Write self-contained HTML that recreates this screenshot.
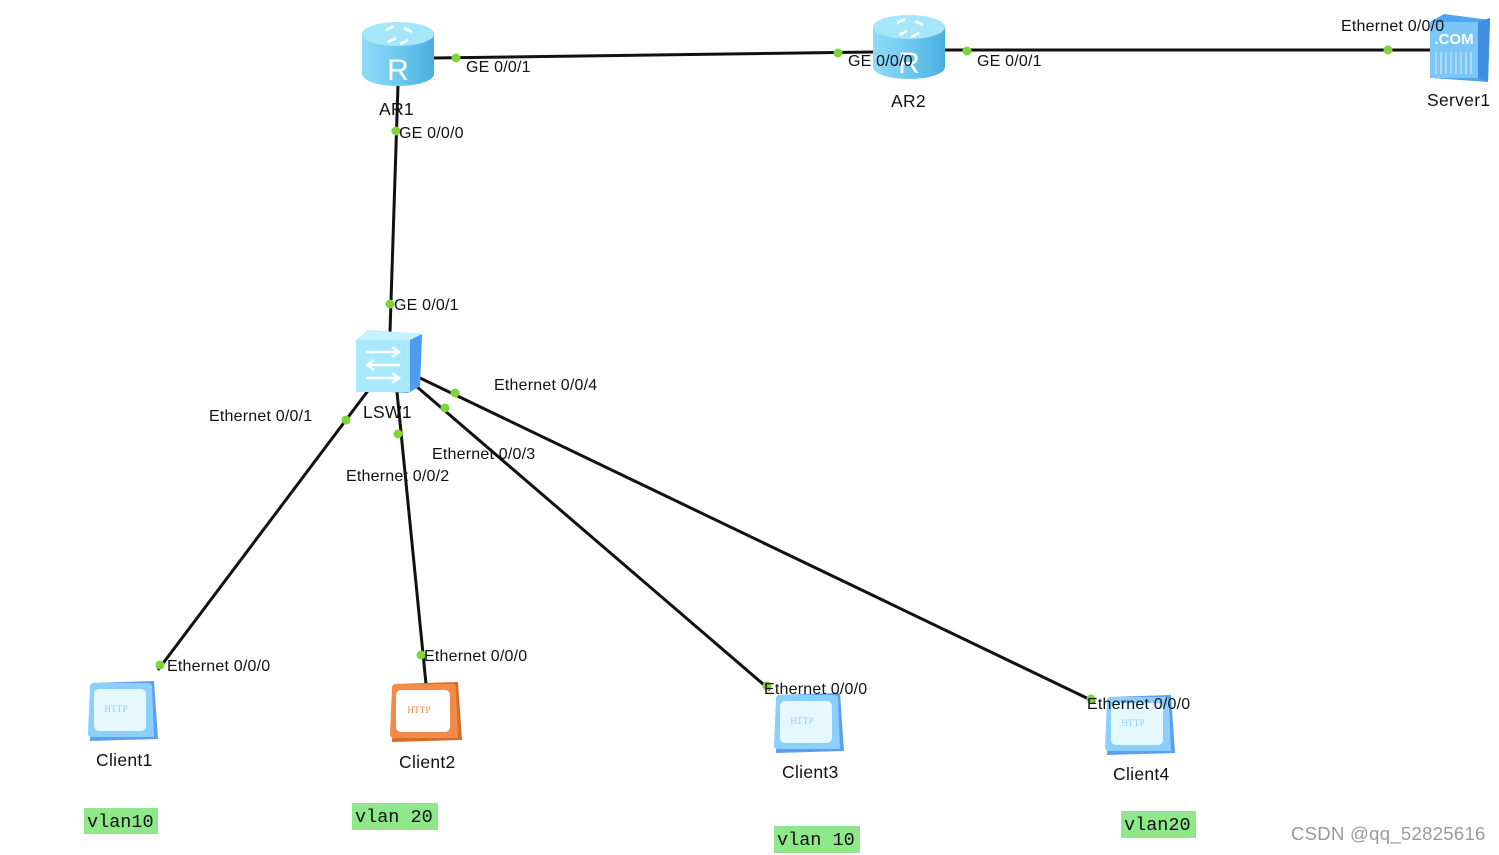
<!DOCTYPE html>
<html><head><meta charset="utf-8"><style>
html,body{margin:0;padding:0;background:#fff;}
svg{display:block;}
text{font-family:"Liberation Sans",sans-serif;font-size:16px;letter-spacing:0.2px;fill:#111;}
.n{font-size:17.5px;letter-spacing:0.3px;}
.m{font-family:"Liberation Mono",monospace;font-size:18.5px;letter-spacing:0;}
</style></head><body>
<svg width="1499" height="855" viewBox="0 0 1499 855" xmlns="http://www.w3.org/2000/svg">
<defs>
<linearGradient id="rg" x1="0" x2="1"><stop offset="0" stop-color="#8fdcf8"/><stop offset="0.5" stop-color="#6ec9f0"/><stop offset="1" stop-color="#4aaee0"/></linearGradient>
<g id="router">
<path d="M-36,-22 L-36,18 A36,12 0 0 0 36,18 L36,-22 Z" fill="url(#rg)"/>
<ellipse cx="0" cy="-22" rx="36" ry="12" fill="#a6e6fb"/>
<path d="M-12,-26 l8,-4 M-2,-18 l-8,4 M6,-28 l8,4 M10,-16 l-8,4" stroke="#fff" stroke-width="2.5"/>
<text x="0" y="24" text-anchor="middle" style="font-size:30px;fill:#fff;letter-spacing:0">R</text>
</g>
<g id="client">
<path d="M4,2 L66,0 L70,58 L2,60 Z" fill="#5b9ff0"/>
<path d="M2,6 Q2,2 6,2 L60,2 Q64,2 64,6 L66,56 L4,56 Q0,56 0,52 Z" fill="#8ccffc"/>
<rect x="6" y="8" width="52" height="42" rx="5" fill="#e6f8ff"/>
<text x="28" y="31" text-anchor="middle" style="font-size:9px;fill:#8ccffc;font-family:'Liberation Serif',serif">HTTP</text>
</g>
</defs>

<g stroke="#111" stroke-width="3" fill="none">
<line x1="434" y1="58" x2="873" y2="52"/>
<line x1="945" y1="50" x2="1430" y2="50"/>
<line x1="398" y1="85" x2="390" y2="332"/>
<line x1="370" y1="388" x2="158" y2="670"/>
<line x1="397" y1="392" x2="426" y2="684"/>
<line x1="416" y1="386" x2="770" y2="690"/>
<line x1="420" y1="378" x2="1095" y2="702"/>
</g>

<use href="#router" x="398" y="56"/>
<use href="#router" x="909" y="49"/>

<g>
<path d="M1430,22 L1444,14 L1490,20 L1488,82 L1432,78 Z" fill="#4ea6ee"/>
<rect x="1430" y="22" width="48" height="56" fill="#7cc6f7"/>
<path d="M1478,22 L1490,18 L1488,82 L1478,78 Z" fill="#3f8fe0"/>
<text x="1454" y="44" text-anchor="middle" style="font-size:15px;fill:#fff;font-weight:bold;letter-spacing:0">.COM</text>
<g stroke="#d8f0ff" stroke-width="1"><line x1="1436" y1="52" x2="1436" y2="74"/><line x1="1441" y1="52" x2="1441" y2="74"/><line x1="1446" y1="52" x2="1446" y2="74"/><line x1="1451" y1="52" x2="1451" y2="74"/><line x1="1456" y1="52" x2="1456" y2="74"/><line x1="1461" y1="52" x2="1461" y2="74"/><line x1="1466" y1="52" x2="1466" y2="74"/><line x1="1471" y1="52" x2="1471" y2="74"/></g>
</g>

<g>
<path d="M356,340 L368,330 L422,334 L420,386 L408,393 L356,390 Z" fill="#5aa8f0"/>
<rect x="356" y="340" width="54" height="52" fill="#a8e8fc"/>
<path d="M410,340 L422,334 L420,386 L410,392 Z" fill="#4d9cf0"/>
<path d="M356,340 L368,330 L422,334 L410,340 Z" fill="#c4f2ff"/>
<g stroke="#fff" stroke-width="2.5" fill="none">
<path d="M366,352 L398,352 M392,347 L399,352 L392,357"/>
<path d="M400,365 L368,365 M374,360 L367,365 L374,370"/>
<path d="M366,378 L398,378 M392,373 L399,378 L392,383"/>
</g>
</g>

<use href="#client" x="88" y="681"/>
<g transform="translate(390,682)">
<path d="M4,2 L68,0 L72,58 L2,60 Z" fill="#d66a2a"/>
<path d="M2,6 Q2,2 6,2 L62,2 Q66,2 66,6 L68,56 L4,56 Q0,56 0,52 Z" fill="#f28b46"/>
<rect x="6" y="8" width="54" height="42" rx="5" fill="#fff"/>
<text x="29" y="31" text-anchor="middle" style="font-size:9px;fill:#f28b46;font-family:'Liberation Serif',serif">HTTP</text>
</g>
<use href="#client" x="774" y="693"/>
<use href="#client" x="1105" y="695"/>

<g fill="#7fd43a">
<circle cx="456" cy="58" r="4.5"/><circle cx="838" cy="53" r="4.5"/><circle cx="967" cy="51" r="4.5"/><circle cx="1388" cy="50" r="4.5"/>
<circle cx="396" cy="131" r="4.5"/><circle cx="390" cy="304" r="4.5"/><circle cx="346" cy="420" r="4.5"/><circle cx="398" cy="434" r="4.5"/>
<circle cx="445" cy="408" r="4.5"/><circle cx="455" cy="393" r="4.5"/><circle cx="160" cy="665" r="4.5"/><circle cx="421" cy="655" r="4.5"/>
<circle cx="767" cy="686" r="4.5"/><circle cx="1091" cy="699" r="4.5"/>
</g>

<text x="466" y="72">GE 0/0/1</text>
<text class="n" x="379" y="115">AR1</text>
<text x="399" y="138">GE 0/0/0</text>
<text x="848" y="66">GE 0/0/0</text>
<text x="977" y="66">GE 0/0/1</text>
<text class="n" x="891" y="107">AR2</text>
<text x="1341" y="31">Ethernet 0/0/0</text>
<text class="n" x="1427" y="106">Server1</text>
<text x="394" y="310">GE 0/0/1</text>
<text class="n" x="363" y="418">LSW1</text>
<text x="494" y="390">Ethernet 0/0/4</text>
<text x="209" y="421">Ethernet 0/0/1</text>
<text x="432" y="459">Ethernet 0/0/3</text>
<text x="346" y="481">Ethernet 0/0/2</text>
<text x="167" y="671">Ethernet 0/0/0</text>
<text x="424" y="661">Ethernet 0/0/0</text>
<text x="764" y="694">Ethernet 0/0/0</text>
<text x="1087" y="709">Ethernet 0/0/0</text>
<text class="n" x="96" y="766">Client1</text>
<text class="n" x="399" y="768">Client2</text>
<text class="n" x="782" y="778">Client3</text>
<text class="n" x="1113" y="780">Client4</text>

<g fill="#8ee88a">
<rect x="84" y="808" width="74" height="26"/>
<rect x="352" y="803" width="86" height="27"/>
<rect x="774" y="826" width="86" height="27"/>
<rect x="1121" y="811" width="75" height="27"/>
</g>
<text class="m" x="87" y="827">vlan10</text>
<text class="m" x="355" y="822">vlan 20</text>
<text class="m" x="777" y="845">vlan 10</text>
<text class="m" x="1124" y="830">vlan20</text>

<text x="1291" y="840" style="font-size:18.5px;fill:#999;letter-spacing:0.3px">CSDN @qq_52825616</text>
</svg>
</body></html>
